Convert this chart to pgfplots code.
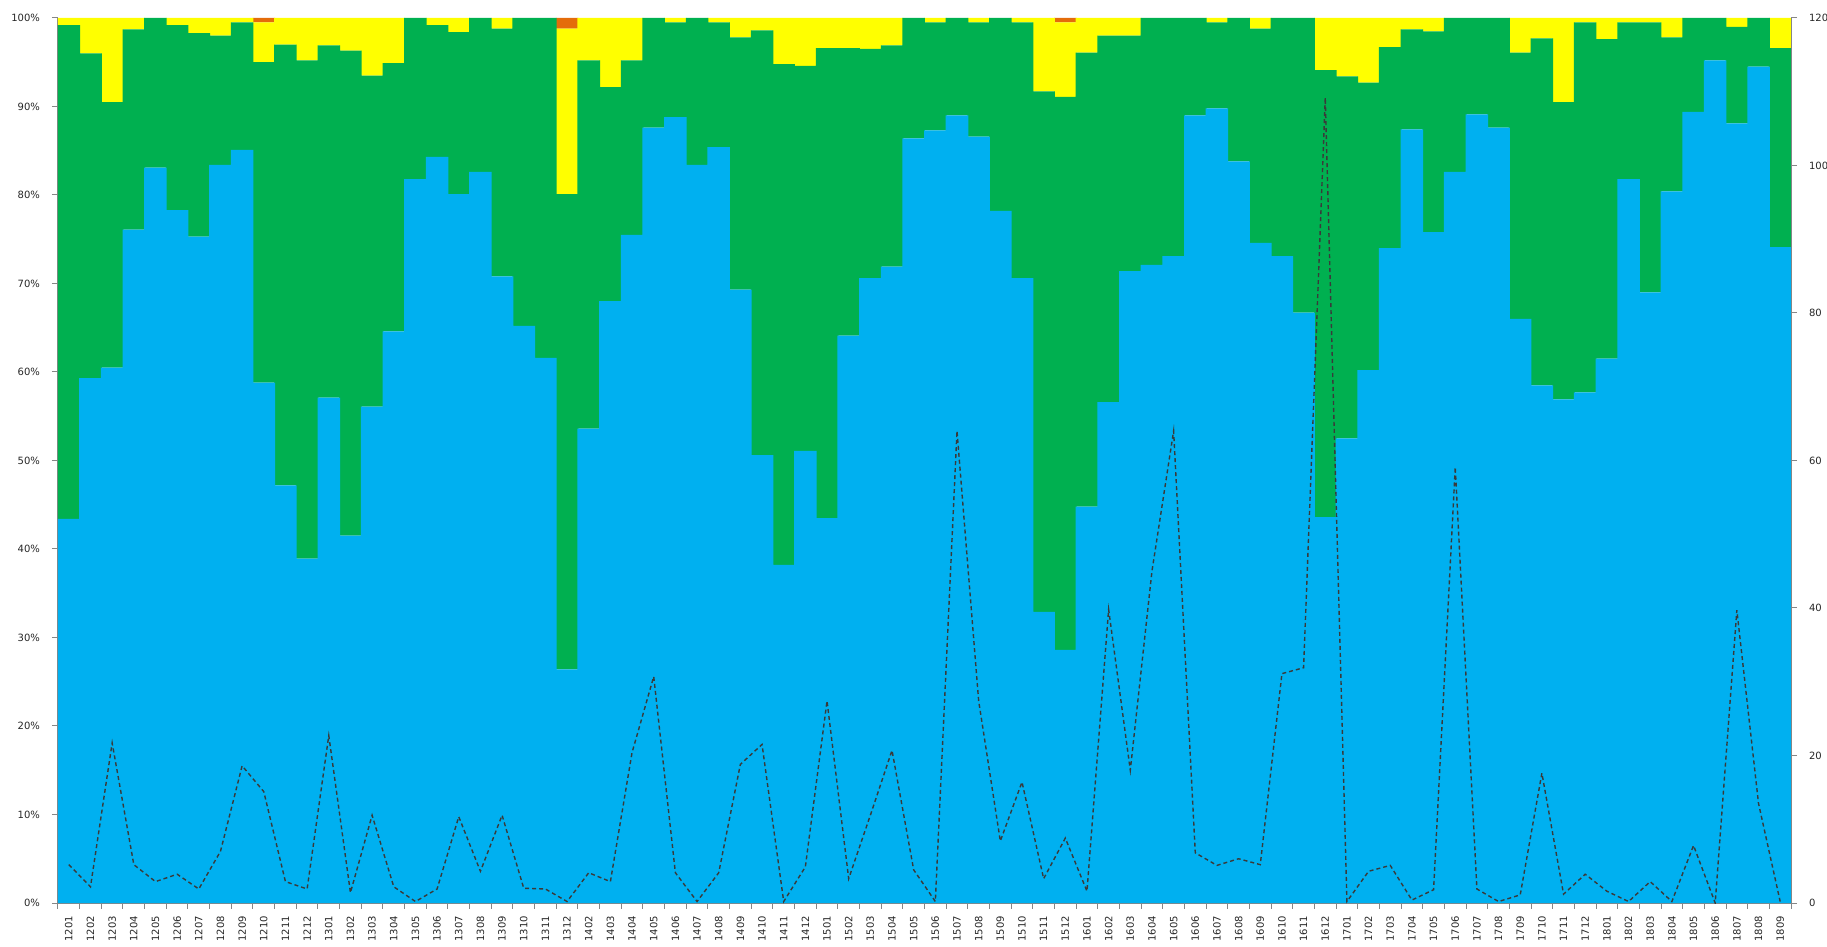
\documentclass[border=0pt]{standalone}
\usepackage{pgfplots}
\usepackage{pgfplotstable}
\pgfplotsset{compat=1.18}
\usepackage{fontspec}
\setmainfont{DejaVu Sans}
\definecolor{cblue}{HTML}{00B0F0}
\definecolor{cgreen}{HTML}{00B050}
\definecolor{cyellow}{HTML}{FFFF00}
\definecolor{corange}{HTML}{E46C0A}
\definecolor{axgray}{HTML}{868686}
\definecolor{linegray}{HTML}{3A3A3A}

\pgfplotstableread{
x blue green yellow orange line
1 43.4 55.8 0.8 0 5.2
2 59.3 36.7 4.0 0 2.2
3 60.5 30.0 9.5 0 21.7
4 76.1 22.6 1.3 0 5.2
5 83.1 16.9 0 0 2.9
6 78.3 20.9 0.8 0 3.9
7 75.3 23.0 1.7 0 1.9
8 83.4 14.6 2.0 0 7.0
9 85.1 14.4 0.5 0 18.6
10 58.8 36.2 4.5 0.5 15.1
11 47.2 49.8 3.0 0 2.9
12 38.9 56.3 4.8 0 1.9
13 57.1 39.8 3.1 0 22.7
14 41.5 54.8 3.7 0 1.4
15 56.1 37.4 6.5 0 11.9
16 64.6 30.3 5.1 0 2.2
17 81.8 18.2 0 0 0.2
18 84.3 14.9 0.8 0 1.9
19 80.1 18.3 1.6 0 11.7
20 82.6 17.4 0 0 4.3
21 70.8 28.0 1.2 0 11.9
22 65.2 34.8 0 0 2.0
23 61.6 38.4 0 0 1.9
24 26.4 53.7 18.7 1.2 0.2
25 53.6 41.6 4.8 0 4.1
26 68.0 24.2 7.8 0 2.9
27 75.5 19.7 4.8 0 20.4
28 87.6 12.4 0 0 30.7
29 88.8 10.7 0.5 0 4.1
30 83.4 16.6 0 0 0.2
31 85.4 14.1 0.5 0 4.1
32 69.3 28.5 2.2 0 18.8
33 50.6 48.0 1.4 0 21.5
34 38.2 56.6 5.2 0 0.2
35 51.1 43.5 5.4 0 4.9
36 43.5 53.1 3.4 0 27.4
37 64.1 32.5 3.4 0 3.3
38 70.6 25.9 3.5 0 11.9
39 71.9 25.0 3.1 0 20.7
40 86.4 13.6 0 0 4.5
41 87.3 12.2 0.5 0 0.2
42 89.0 11.0 0 0 64.0
43 86.6 12.9 0.5 0 27.4
44 78.2 21.8 0 0 8.4
45 70.6 28.9 0.5 0 16.4
46 32.9 58.8 8.3 0 3.3
47 28.6 62.5 8.4 0.5 8.8
48 44.8 51.3 3.9 0 1.6
49 56.6 41.4 2.0 0 39.8
50 71.4 26.6 2.0 0 18.0
51 72.1 27.9 0 0 45.0
52 73.1 26.9 0 0 64.0
53 89.0 11.0 0 0 6.8
54 89.8 9.7 0.5 0 5.1
55 83.8 16.2 0 0 6.0
56 74.6 24.2 1.2 0 5.2
57 73.1 26.9 0 0 31.1
58 66.7 33.3 0 0 31.9
59 43.6 50.5 5.9 0 109.2
60 52.5 40.9 6.6 0 0.2
61 60.2 32.5 7.3 0 4.3
62 74.0 22.7 3.3 0 5.1
63 87.4 11.3 1.3 0 0.4
64 75.8 22.7 1.5 0 1.8
65 82.6 17.4 0 0 59.1
66 89.1 10.9 0 0 1.9
67 87.6 12.4 0 0 0.2
68 66.0 30.1 3.9 0 1.1
69 58.5 39.2 2.3 0 17.6
70 56.9 33.6 9.5 0 1.2
71 57.7 41.8 0.5 0 3.9
72 61.5 36.1 2.4 0 1.6
73 81.8 17.7 0.5 0 0.2
74 69.0 30.5 0.5 0 2.9
75 80.4 17.4 2.2 0 0.2
76 89.4 10.6 0 0 7.8
77 95.2 4.8 0 0 0
78 88.1 10.9 1.0 0 39.7
79 94.5 5.5 0 0 13.5
80 74.1 22.5 3.4 0 0.2
}\data

\begin{document}
\begin{tikzpicture}[font=\fontsize{5}{6}\selectfont]
\begin{axis}[
  name=main,
  scale only axis,
  width=866.5pt, height=442.5pt,
  xmin=0.5, xmax=80.5, ymin=0, ymax=100,
  ybar stacked, bar width=1.04,
  axis x line*=bottom, axis y line*=left,
  axis line style={axgray, line width=0.5pt},
  tick align=outside,
  major tick length=3pt, minor tick length=3pt,
  tick style={axgray, line width=0.5pt},
  ytick={0,10,...,100},
  yticklabel={\pgfmathprintnumber{\tick}\%},
  yticklabel style={xshift=-2.5pt},
  xtick={1,...,80},
  major x tick style={draw=none},
  minor xtick={0.5,1.5,...,80.5},
  xticklabels={1201,1202,1203,1204,1205,1206,1207,1208,1209,1210,1211,1212,
    1301,1302,1303,1304,1305,1306,1307,1308,1309,1310,1311,1312,
    1402,1403,1404,1405,1406,1407,1408,1409,1410,1411,1412,
    1501,1502,1503,1504,1505,1506,1507,1508,1509,1510,1511,1512,
    1601,1602,1603,1604,1605,1606,1607,1608,1609,1610,1611,1612,
    1701,1702,1703,1704,1705,1706,1707,1708,1709,1710,1711,1712,
    1801,1802,1803,1804,1805,1806,1807,1808,1809},
  xticklabel style={rotate=90, anchor=east, yshift=0pt},
  /pgf/number format/assume math mode=true,
  ticklabel style={text=black!85},
]
\addplot[fill=cblue, draw=none] table[x=x, y=blue] {\data};
\addplot[fill=cgreen, draw=none] table[x=x, y=green] {\data};
\addplot[fill=cyellow, draw=none] table[x=x, y=yellow] {\data};
\addplot[fill=corange, draw=none] table[x=x, y=orange] {\data};
\end{axis}
\begin{axis}[
  scale only axis,
  width=866.5pt, height=442.5pt,
  xmin=0.5, xmax=80.5, ymin=0, ymax=120,
  axis x line=none, axis y line*=right,
  axis line style={axgray, line width=0.5pt},
  tick align=outside,
  major tick length=3pt,
  tick style={axgray, line width=0.5pt},
  ytick={0,20,...,120},
  yticklabel style={xshift=2.5pt},
  /pgf/number format/assume math mode=true,
  ticklabel style={text=black!85},
]
\addplot[linegray, line width=0.7pt, dash pattern=on 2pt off 1.5pt] table[x=x, y=line] {\data};
\end{axis}
\pgfresetboundingbox
\path ([xshift=-29pt,yshift=-21.5pt]main.south west) rectangle ([xshift=18pt,yshift=9pt]main.north east);
\end{tikzpicture}
\end{document}
